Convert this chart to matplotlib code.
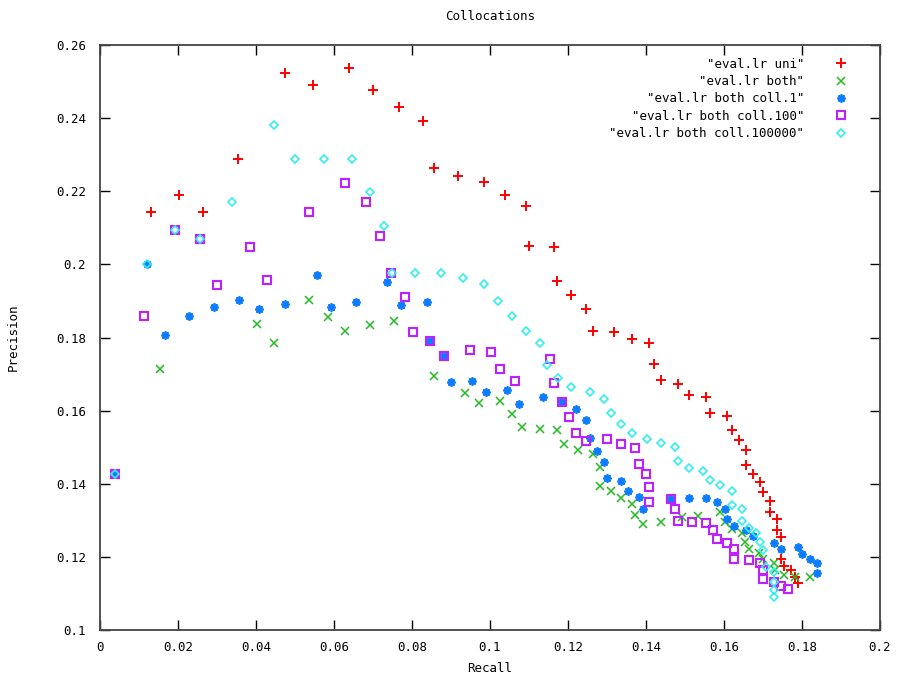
import numpy as np
import matplotlib
matplotlib.use("Agg")
import matplotlib.pyplot as plt
from matplotlib.ticker import FuncFormatter

# recall / precision pairs
uni_x = [0.0130, 0.0203, 0.0265, 0.0355, 0.0475, 0.0547, 0.0638, 0.0700, 0.0766, 0.0827,
         0.0856, 0.0919, 0.0984, 0.1038, 0.1092, 0.1101, 0.1164, 0.1172, 0.1208, 0.1245,
         0.1263, 0.1317, 0.1365, 0.1408, 0.1420, 0.1438, 0.1481, 0.1511, 0.1554, 0.1565,
         0.1608, 0.1620, 0.1638, 0.1656, 0.1656, 0.1674, 0.1692, 0.1700, 0.1718, 0.1718,
         0.1736, 0.1736, 0.1747, 0.1747, 0.1754, 0.1773, 0.1783, 0.1791]
uni_y = [0.2143, 0.2191, 0.2143, 0.2287, 0.2524, 0.2490, 0.2536, 0.2477, 0.2430, 0.2392,
         0.2264, 0.2242, 0.2225, 0.2191, 0.2160, 0.2050, 0.2048, 0.1955, 0.1915, 0.1877,
         0.1819, 0.1814, 0.1795, 0.1784, 0.1727, 0.1683, 0.1672, 0.1644, 0.1636, 0.1594,
         0.1585, 0.1547, 0.1520, 0.1492, 0.1450, 0.1428, 0.1404, 0.1378, 0.1354, 0.1324,
         0.1304, 0.1274, 0.1254, 0.1194, 0.1176, 0.1163, 0.1146, 0.1128]

both_x = [0.0155, 0.0403, 0.0445, 0.0537, 0.0584, 0.0628, 0.0693, 0.0754, 0.0856, 0.0937,
          0.0973, 0.1027, 0.1056, 0.1083, 0.1129, 0.1173, 0.1191, 0.1227, 0.1263, 0.1281,
          0.1281, 0.1311, 0.1336, 0.1365, 0.1373, 0.1392, 0.1438, 0.1493, 0.1533, 0.1591,
          0.1602, 0.1620, 0.1645, 0.1654, 0.1663, 0.1690, 0.1701, 0.1728, 0.1732, 0.1754,
          0.1783, 0.1820]
both_y = [0.1714, 0.1838, 0.1784, 0.1903, 0.1857, 0.1819, 0.1833, 0.1846, 0.1695, 0.1647,
          0.1620, 0.1627, 0.1590, 0.1554, 0.1550, 0.1546, 0.1509, 0.1492, 0.1481, 0.1445,
          0.1395, 0.1381, 0.1362, 0.1345, 0.1314, 0.1291, 0.1295, 0.1308, 0.1312, 0.1323,
          0.1295, 0.1276, 0.1264, 0.1241, 0.1222, 0.1210, 0.1195, 0.1182, 0.1165, 0.1151,
          0.1146, 0.1146]

coll1_x = [0.0038, 0.0120, 0.0167, 0.0227, 0.0293, 0.0356, 0.0409, 0.0475, 0.0556, 0.0592,
           0.0657, 0.0736, 0.0773, 0.0838, 0.0846, 0.0883, 0.0900, 0.0955, 0.0991, 0.1044,
           0.1074, 0.1137, 0.1184, 0.1221, 0.1245, 0.1256, 0.1274, 0.1292, 0.1299, 0.1336,
           0.1355, 0.1383, 0.1392, 0.1463, 0.1511, 0.1554, 0.1583, 0.1602, 0.1608, 0.1627,
           0.1656, 0.1674, 0.1728, 0.1747, 0.1790, 0.1801, 0.1820, 0.1838, 0.1838]
coll1_y = [0.1427, 0.2002, 0.1807, 0.1858, 0.1884, 0.1903, 0.1877, 0.1892, 0.1970, 0.1884,
           0.1897, 0.1951, 0.1888, 0.1896, 0.1791, 0.1749, 0.1678, 0.1682, 0.1652, 0.1656,
           0.1618, 0.1636, 0.1624, 0.1605, 0.1574, 0.1524, 0.1490, 0.1459, 0.1415, 0.1408,
           0.1381, 0.1365, 0.1331, 0.1358, 0.1361, 0.1361, 0.1351, 0.1330, 0.1304, 0.1284,
           0.1274, 0.1256, 0.1237, 0.1222, 0.1226, 0.1207, 0.1195, 0.1183, 0.1156]

coll100_x = [0.0038, 0.0112, 0.0192, 0.0257, 0.0301, 0.0385, 0.0428, 0.0536, 0.0628, 0.0682,
             0.0718, 0.0747, 0.0783, 0.0802, 0.0846, 0.0883, 0.0948, 0.1003, 0.1027, 0.1064,
             0.1155, 0.1164, 0.1184, 0.1203, 0.1221, 0.1245, 0.1299, 0.1336, 0.1373, 0.1383,
             0.1401, 0.1408, 0.1408, 0.1463, 0.1475, 0.1482, 0.1518, 0.1554, 0.1572, 0.1583,
             0.1608, 0.1627, 0.1627, 0.1663, 0.1692, 0.1700, 0.1700, 0.1729, 0.1747, 0.1765]
coll100_y = [0.1427, 0.1858, 0.2093, 0.2070, 0.1943, 0.2047, 0.1957, 0.2144, 0.2222, 0.2171,
             0.2078, 0.1977, 0.1912, 0.1814, 0.1791, 0.1749, 0.1765, 0.1760, 0.1714, 0.1682,
             0.1740, 0.1675, 0.1624, 0.1583, 0.1539, 0.1516, 0.1523, 0.1509, 0.1497, 0.1455,
             0.1427, 0.1391, 0.1350, 0.1358, 0.1330, 0.1299, 0.1295, 0.1292, 0.1273, 0.1249,
             0.1237, 0.1222, 0.1194, 0.1191, 0.1183, 0.1163, 0.1139, 0.1132, 0.1121, 0.1113]

coll100000_x = [0.0038, 0.0120, 0.0192, 0.0257, 0.0338, 0.0446, 0.0501, 0.0574, 0.0646, 0.0693,
                0.0729, 0.0748, 0.0809, 0.0874, 0.0930, 0.0985, 0.1020, 0.1057, 0.1092, 0.1129,
                0.1147, 0.1174, 0.1208, 0.1257, 0.1293, 0.1311, 0.1336, 0.1365, 0.1402, 0.1438,
                0.1474, 0.1482, 0.1511, 0.1547, 0.1565, 0.1591, 0.1620, 0.1620, 0.1645, 0.1645,
                0.1664, 0.1682, 0.1692, 0.1700, 0.1709, 0.1728, 0.1728, 0.1728, 0.1728]
coll100000_y = [0.1427, 0.2002, 0.2093, 0.2070, 0.2171, 0.2380, 0.2287, 0.2287, 0.2287, 0.2199,
                0.2106, 0.1977, 0.1977, 0.1977, 0.1962, 0.1947, 0.1901, 0.1858, 0.1819, 0.1784,
                0.1726, 0.1688, 0.1664, 0.1652, 0.1632, 0.1594, 0.1563, 0.1538, 0.1523, 0.1512,
                0.1501, 0.1462, 0.1442, 0.1435, 0.1411, 0.1396, 0.1380, 0.1342, 0.1330, 0.1299,
                0.1280, 0.1264, 0.1241, 0.1218, 0.1173, 0.1159, 0.1130, 0.1109, 0.1089]

plt.rcParams['font.family'] = ['DejaVu Sans Mono']
plt.rcParams['font.size'] = 9

fig = plt.figure(figsize=(9.04, 6.78), dpi=100)
ax = fig.add_axes([0.1106, 0.0708, 0.8628, 0.8628])

asterisk = (8, 2, 0)
ax.plot(uni_x, uni_y, ls='none', marker='+', ms=7, mew=1.4, color='#ff0000',
        label='"eval.lr uni"')
ax.plot(both_x, both_y, ls='none', marker='x', ms=5.5, mew=1.1, color='#22bb22',
        label='"eval.lr both"')
ax.plot(coll1_x, coll1_y, ls='none', marker=asterisk, ms=6, mew=1.3, color='#0a7cff',
        label='"eval.lr both coll.1"')
ax.plot(coll100_x, coll100_y, ls='none', marker='s', ms=5.5, mew=1.5, mfc='none',
        color='#c020ff', label='"eval.lr both coll.100"')
ax.plot(coll100000_x, coll100000_y, ls='none', marker='D', ms=4.2, mew=1.2, mfc='none',
        color='#33eeee', label='"eval.lr both coll.100000"')

ax.set_xlim(0, 0.2)
ax.set_ylim(0.1, 0.26)
ax.set_xticks(np.arange(0, 0.2001, 0.02))
ax.set_yticks(np.arange(0.1, 0.2601, 0.02))
fmt = FuncFormatter(lambda v, p: '%g' % round(v, 4))
ax.xaxis.set_major_formatter(fmt)
ax.yaxis.set_major_formatter(fmt)
ax.tick_params(direction='in', length=7, width=1, top=True, right=True, labelsize=9)
ax.tick_params(axis='x', pad=8)
ax.tick_params(axis='y', pad=10)
for s in ax.spines.values():
    s.set_color('#444444')
    s.set_linewidth(1.3)

ax.set_title('Collocations', fontsize=9, pad=18)
ax.set_xlabel('Recall', fontsize=9, labelpad=6)
ax.set_ylabel('Precision', fontsize=9, labelpad=26)

ax.legend(loc='upper right', bbox_to_anchor=(0.978, 1.0), frameon=False,
          markerfirst=False, fontsize=9, handlelength=1.5, handletextpad=2.2,
          labelspacing=0.35, borderaxespad=0.6)
leg = ax.get_legend()
for t in leg.get_texts():
    t.set_ha('right')
leg._legend_box.align = 'right'

fig.savefig('out.png', dpi=100)
